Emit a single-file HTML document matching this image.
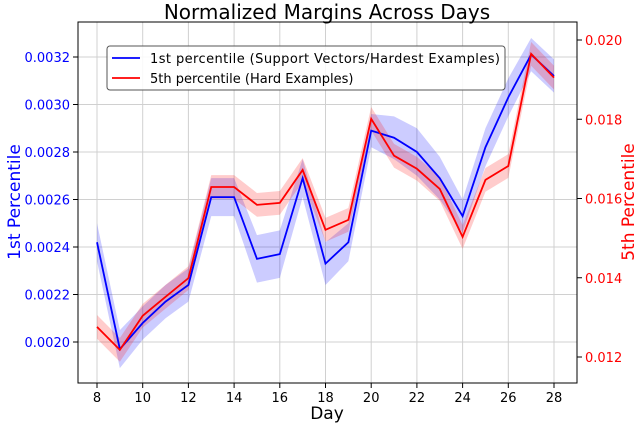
<!DOCTYPE html>
<html><head><meta charset="utf-8"><style>
body{margin:0;background:#fff;position:relative;width:640px;height:424px;overflow:hidden}
svg text{font-family:"DejaVu Sans","Liberation Sans",sans-serif;}
</style></head><body>
<svg id="chart" width="640" height="424" viewBox="0 0 640 424"></svg>
<script>
const days=[8,9,10,11,12,13,14,15,16,17,18,19,20,21,22,23,24,25,26,27,28];
const blueVals=[0.00242,0.00197,0.00208,0.00217,0.00224,0.00261,0.00261,0.00235,0.00237,0.00269,0.00233,0.00242,0.00289,0.00286,0.00280,0.00269,0.00253,0.00282,0.00303,0.00321,0.00312];
const blueErr=[0.00008,0.00008,0.00007,0.00007,0.00007,0.00008,0.00008,0.00010,0.00010,0.00008,0.00009,0.00008,0.00007,0.00009,0.00010,0.00009,0.00007,0.00008,0.00008,0.00007,0.00007];
const redVals=[0.01276,0.01218,0.01304,0.01352,0.01399,0.01629,0.01629,0.01584,0.01589,0.01672,0.01521,0.01546,0.01801,0.01708,0.01675,0.01624,0.01503,0.01647,0.01682,0.01965,0.01905];
const redErr=[0.0003,0.0003,0.0003,0.0003,0.0003,0.0003,0.0003,0.0003,0.0003,0.0003,0.0003,0.0003,0.0003,0.0003,0.0003,0.0003,0.0003,0.0003,0.0003,0.0003,0.0003];
const xTicks=[8,10,12,14,16,18,20,22,24,26,28];
const leftTicks=[0.0020,0.0022,0.0024,0.0026,0.0028,0.0030,0.0032];
const rightTicks=[0.012,0.014,0.016,0.018,0.020];

const L=78,R=577,T=22,B=383;
const xS=d=>97+(d-8)*(554-97)/20;
const yL=v=>342-(v-0.0020)*(342-57)/0.0012;
const yR=v=>357-(v-0.012)*(357-40)/0.008;
const NS="http://www.w3.org/2000/svg";
const svg=document.getElementById('chart');
function mk(tag,attrs,parent){const e=document.createElementNS(NS,tag);for(const k in attrs)e.setAttribute(k,attrs[k]);(parent||svg).appendChild(e);return e;}

xTicks.forEach(d=>{const g=mk('line',{x1:xS(d),x2:xS(d),y1:T,y2:B,stroke:'#d0d0d0','stroke-width':1});

});
leftTicks.forEach(v=>{const g=mk('line',{x1:L,x2:R,y1:yL(v),y2:yL(v),stroke:'#d0d0d0','stroke-width':1});

});

function band(vals,err,ys,color,name){
  let pts=days.map((d,i)=>xS(d)+','+ys(vals[i]+err[i]));
  let low=days.map((d,i)=>xS(d)+','+ys(vals[i]-err[i])).reverse();
  const p=mk('polygon',{points:pts.concat(low).join(' '),fill:color,'fill-opacity':0.2,stroke:'none'});
  
  
}
function line(vals,ys,color,name){
  const p=mk('polyline',{points:days.map((d,i)=>xS(d)+','+ys(vals[i])).join(' '),fill:'none',stroke:color,'stroke-width':1.8});
  
  
}
band(blueVals,blueErr,yL,'#0000ff','blue-band');
band(redVals,redErr,yR,'#ff0000','red-band');
line(blueVals,yL,'#0000ff','first-percentile-line');
line(redVals,yR,'#ff0000','fifth-percentile-line');

const fr=mk('rect',{x:L,y:T,width:R-L,height:B-T,fill:'none',stroke:'#000','stroke-width':1});



xTicks.forEach(d=>{mk('line',{x1:xS(d),x2:xS(d),y1:B,y2:B+5,stroke:'#000'});
const t=mk('text',{x:xS(d),y:B+19,'text-anchor':'middle','font-size':13,fill:'#000'});t.textContent=d;

});
leftTicks.forEach(v=>{mk('line',{x1:L-5,x2:L,y1:yL(v),y2:yL(v),stroke:'#000'});
const t=mk('text',{x:L-8,y:yL(v)+5,'text-anchor':'end','font-size':13,fill:'#0000ff'});t.textContent=v.toFixed(4);

});
rightTicks.forEach(v=>{mk('line',{x1:R,x2:R+5,y1:yR(v),y2:yR(v),stroke:'#000'});
const t=mk('text',{x:R+8,y:yR(v)+5,'text-anchor':'start','font-size':13,fill:'#ff0000'});t.textContent=v.toFixed(3);

});
</script>
<svg width="640" height="424" style="position:absolute;left:0;top:0">
<text x="327" y="19" text-anchor="middle" font-size="20" fill="#000">Normalized Margins Across Days</text>
<text x="327" y="419" text-anchor="middle" font-size="17" fill="#000">Day</text>
<text transform="translate(20,202) rotate(-90)" text-anchor="middle" font-size="17" fill="#0000ff">1st Percentile</text>
<text transform="translate(634,202) rotate(-90)" text-anchor="middle" font-size="17" fill="#ff0000">5th Percentile</text>
<g>
<rect x="107" y="46" width="398" height="44" rx="3" fill="#fff" fill-opacity="0.85" stroke="#555" stroke-width="1"/>
<line x1="112" x2="140" y1="58" y2="58" stroke="#0000ff" stroke-width="1.8"/>
<text x="150" y="63" font-size="13" fill="#000" textLength="350">1st percentile (Support Vectors/Hardest Examples)</text>
<line x1="112" x2="140" y1="78" y2="78" stroke="#ff0000" stroke-width="1.8"/>
<text x="150" y="83" font-size="13" fill="#000">5th percentile (Hard Examples)</text>
</g>
</svg>
</body></html>
